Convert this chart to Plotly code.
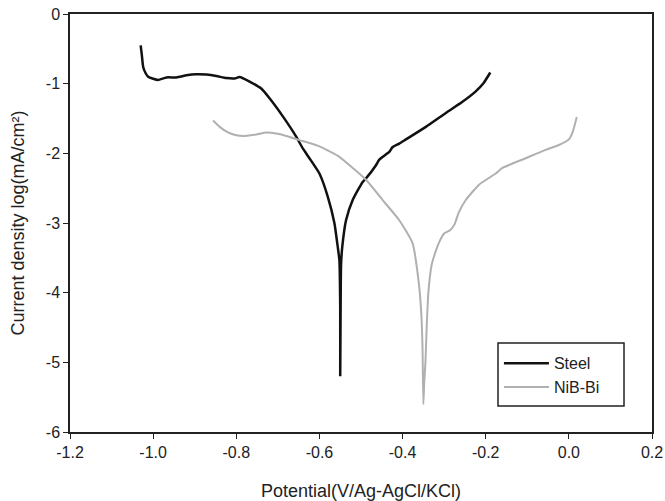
import plotly.graph_objects as go

# Steel polarization curve (potential V, log current density)
steel_x = [-1.030, -1.027, -1.024, -1.018, -1.012, -1.000, -0.988, -0.968, -0.944, -0.920,
           -0.896, -0.872, -0.848, -0.824, -0.804, -0.792, -0.768, -0.740, -0.720, -0.688,
           -0.656, -0.640, -0.624, -0.600, -0.580, -0.564, -0.556, -0.552, -0.550, -0.550,
           -0.549, -0.548, -0.545, -0.536, -0.520, -0.496, -0.488, -0.464, -0.456, -0.432,
           -0.424, -0.408, -0.392, -0.344, -0.296, -0.256, -0.224, -0.205, -0.189]
steel_y = [-0.45, -0.60, -0.76, -0.85, -0.90, -0.93, -0.947, -0.91, -0.91, -0.88,
           -0.865, -0.87, -0.89, -0.92, -0.925, -0.905, -0.97, -1.07, -1.21, -1.47,
           -1.76, -1.93, -2.07, -2.29, -2.62, -3.00, -3.34, -3.53, -4.20, -5.20,
           -4.20, -3.60, -3.34, -2.96, -2.67, -2.41, -2.36, -2.17, -2.09, -1.98,
           -1.91, -1.86, -1.80, -1.62, -1.42, -1.26, -1.11, -0.99, -0.84]

# NiB-Bi polarization curve
nib_x = [-0.856, -0.840, -0.820, -0.800, -0.780, -0.752, -0.728, -0.700, -0.680, -0.648,
         -0.600, -0.552, -0.520, -0.488, -0.448, -0.408, -0.376, -0.361, -0.355, -0.352,
         -0.350, -0.348, -0.345, -0.342, -0.338, -0.330, -0.320, -0.310, -0.300, -0.285,
         -0.275, -0.265, -0.248, -0.216, -0.176, -0.160, -0.104, -0.056, -0.024, 0.000,
         0.010, 0.019]
nib_y = [-1.53, -1.62, -1.70, -1.74, -1.75, -1.73, -1.70, -1.72, -1.75, -1.81,
         -1.90, -2.05, -2.21, -2.38, -2.67, -2.96, -3.29, -3.86, -4.30, -4.80,
         -5.60, -5.30, -5.00, -4.50, -4.00, -3.60, -3.40, -3.25, -3.15, -3.10,
         -3.02, -2.85, -2.67, -2.45, -2.29, -2.21, -2.07, -1.95, -1.88, -1.80,
         -1.68, -1.48]

x_ticks = [-1.2, -1.0, -0.8, -0.6, -0.4, -0.2, 0.0, 0.2]
x_tick_text = ["-1.2", "-1.0", "-0.8", "-0.6", "-0.4", "-0.2", "0.0", "0.2"]
y_ticks = [0, -1, -2, -3, -4, -5, -6]
y_tick_text = ["0", "-1", "-2", "-3", "-4", "-5", "-6"]

fig = go.Figure()
fig.add_trace(go.Scatter(x=steel_x, y=steel_y, mode="lines", name="Steel",
                         line=dict(color="#111111", width=2.5, shape="spline", smoothing=0.5)))
fig.add_trace(go.Scatter(x=nib_x, y=nib_y, mode="lines", name="NiB-Bi",
                         line=dict(color="#b0b0b0", width=2.0, shape="spline", smoothing=0.5)))

# legend frame
fig.add_shape(type="rect", xref="paper", yref="paper",
              x0=0.7354, x1=0.9519, y0=0.0622, y1=0.2129,
              line=dict(color="#222222", width=1.5), fillcolor="white", layer="above")

font_family = "Liberation Sans, Arial, sans-serif"
fig.update_layout(
    template="none",
    width=665, height=501,
    margin=dict(l=70, r=13, t=14, b=69, autoexpand=False),
    paper_bgcolor="white", plot_bgcolor="white",
    font=dict(family=font_family, size=16, color="#222222"),
    showlegend=True,
    legend=dict(x=0.737, y=0.205, xanchor="left", yanchor="top",
                borderwidth=0, bgcolor="rgba(0,0,0,0)",
                font=dict(size=16, color="#222222"),
                tracegroupgap=0, itemwidth=45),
    xaxis=dict(range=[-1.2, 0.2], tickvals=x_ticks, ticktext=x_tick_text,
               automargin=False,
               showline=True, linecolor="#222222", linewidth=1.5, mirror=True,
               ticks="outside", ticklen=5, tickcolor="#222222", showgrid=False,
               zeroline=False,
               title=dict(text="Potential(V/Ag-AgCl/KCl)", font=dict(size=18))),
    yaxis=dict(range=[-6, 0], tickvals=y_ticks, ticktext=y_tick_text,
               automargin=False,
               showline=True, linecolor="#222222", linewidth=1.5, mirror=True,
               ticks="outside", ticklen=5, tickcolor="#222222", showgrid=False,
               zeroline=False,
               title=dict(text="Current density log(mA/cm²)", font=dict(size=18))),
)

fig.write_html("out.html")
